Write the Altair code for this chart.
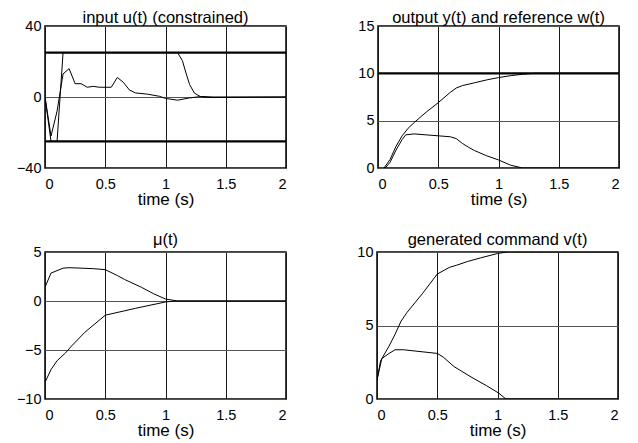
import altair as alt
import pandas as pd

# ---------------- data ----------------
panel_titles = ["input u(t) (constrained)", "output y(t) and reference w(t)",
                "\u03bc(t)", "generated command v(t)"]
x_ticks = [0, 0.5, 1, 1.5, 2]

# Panel 1: input u(t) (constrained)
t_u_a = [0, 0.05, 0.1, 0.15, 0.2, 0.25, 0.3, 0.35, 0.4, 0.45, 0.55, 0.6, 0.65, 0.7, 0.75,
         0.85, 0.95, 1.0, 1.1, 1.2, 1.3, 1.4, 2.0]
u_a = [0, -22, -8, 13, 16, 7.5, 7.5, 5.5, 6, 5.5, 5.5, 11, 8.3, 4, 2.3,
       1.6, 0.4, -0.8, -1.8, -0.5, 0.3, 0, 0]
t_u_b = [0, 0.05, 0.1, 0.15, 1.1, 1.14, 1.17, 1.2, 1.24, 1.29, 1.35, 2.0]
u_b = [0, -25, -25, 25, 25, 20.5, 13.5, 7, 2.2, 0.2, -0.3, 0]
u_limits = [25, -25]
u_ticks = [-40, -20, 0, 20, 40]

# Panel 2: output y(t) and reference w(t)
t_y_a = [0.05, 0.1, 0.15, 0.2, 0.25, 0.3, 0.4, 0.5, 0.6, 0.65, 0.7, 0.8, 0.9, 1.0, 1.1, 1.2, 1.3, 2.0]
y_a = [0, 0.9, 2.3, 3.4, 4.2, 4.8, 5.9, 6.9, 8.0, 8.45, 8.7, 9.0, 9.3, 9.55, 9.75, 9.9, 10, 10]
t_y_b = [0.06, 0.1, 0.15, 0.2, 0.23, 0.3, 0.4, 0.5, 0.6, 0.65, 0.7, 0.75, 0.8, 0.9, 1.0, 1.1, 1.2, 2.0]
y_b = [0, 0.6, 1.9, 3.0, 3.5, 3.6, 3.5, 3.4, 3.3, 3.1, 2.6, 2.2, 1.85, 1.3, 0.85, 0.3, 0, 0]
w_ref = [10]
y_ticks = [0, 5, 10, 15]

# Panel 3: mu(t)
t_mu_a = [0, 0.05, 0.1, 0.15, 0.2, 0.3, 0.4, 0.5, 0.6, 0.66, 0.8, 0.9, 1.0, 1.1, 2.0]
mu_a = [1.4, 2.85, 3.1, 3.35, 3.4, 3.35, 3.3, 3.2, 2.6, 2.2, 1.4, 0.75, 0.2, 0, 0]
t_mu_b = [0, 0.05, 0.1, 0.17, 0.22, 0.33, 0.5, 0.75, 1.0, 1.08, 2.0]
mu_b = [-8.3, -7.0, -6.1, -5.3, -4.6, -3.2, -1.45, -0.75, -0.1, 0, 0]
mu_ticks = [-10, -5, 0, 5]

# Panel 4: generated command v(t)
t_v_a = [0, 0.03, 0.1, 0.15, 0.2, 0.25, 0.38, 0.5, 0.6, 0.66, 0.75, 0.86, 1.0, 1.08, 2.0]
v_a = [1.3, 2.6, 3.6, 4.4, 5.3, 5.9, 7.2, 8.5, 8.95, 9.1, 9.35, 9.6, 9.9, 10, 10]
t_v_b = [0, 0.04, 0.1, 0.15, 0.22, 0.5, 0.55, 0.64, 0.78, 0.91, 1.01, 1.07, 2.0]
v_b = [1.3, 2.75, 3.1, 3.35, 3.35, 3.1, 2.85, 2.2, 1.5, 0.9, 0.4, 0, 0]
v_ticks = [0, 5, 10]

FONT = "Liberation Sans"
PANEL_W = 241
TITLE_SIZE = 16.5


def series_frame(*pairs):
    frames = []
    for i, (ts, vs) in enumerate(pairs):
        frames.append(pd.DataFrame({"t": ts, "v": vs, "s": f"s{i}"}))
    return pd.concat(frames, ignore_index=True)


def panel(df, title, ydomain, yticks, h, title_dy, rules=None):
    x = alt.X("t:Q", scale=alt.Scale(domain=[0, 2], nice=False),
              axis=alt.Axis(values=x_ticks, format="~r", title="time (s)"))
    y = alt.Y("v:Q", scale=alt.Scale(domain=ydomain, nice=False),
              axis=alt.Axis(values=yticks, format="~r", title=None))
    layers = []
    if rules is not None:
        layers.append(alt.Chart(pd.DataFrame({"v": rules})).mark_rule(
            color="black", strokeWidth=2.2).encode(y=alt.Y("v:Q")))
    layers.append(alt.Chart(df).mark_line(color="black", strokeWidth=1, clip=True).encode(
        x=x, y=y, detail="s:N"))
    layers.append(alt.Chart(pd.DataFrame({"label": [title]})).mark_text(
        font=FONT, fontSize=TITLE_SIZE, color="black", align="center", baseline="alphabetic"
    ).encode(text="label:N", x=alt.value(PANEL_W / 2), y=alt.value(title_dy)))
    return alt.layer(*layers).properties(width=PANEL_W, height=h)


p1 = panel(series_frame((t_u_a, u_a), (t_u_b, u_b)), panel_titles[0],
           [-40, 40], u_ticks, 142, -3.5, rules=u_limits)
p2 = panel(series_frame((t_y_a, y_a), (t_y_b, y_b)), panel_titles[1],
           [0, 15], y_ticks, 142, -3.5, rules=w_ref)
p3 = panel(series_frame((t_mu_a, mu_a), (t_mu_b, mu_b)), panel_titles[2],
           [-10, 5], mu_ticks, 147, -7)
p4 = panel(series_frame((t_v_a, v_a), (t_v_b, v_b)), panel_titles[3],
           [0, 10], v_ticks, 147, -7)

top = alt.hconcat(p1, p2, spacing=69)
bottom = alt.hconcat(p3, p4, spacing=69)
chart = alt.vconcat(top, bottom, spacing=22).properties(
    padding={"left": 7, "top": 0, "right": 0, "bottom": 0}
).configure_view(
    stroke="black", strokeWidth=1.5
).configure_axis(
    grid=True, gridWidth=1, gridOpacity=1,
    domain=False, ticks=False,
    labelFont=FONT, labelFontSize=14.5, labelColor="black",
    titleFont=FONT, titleFontSize=17, titleFontWeight="normal", titleColor="black",
).configure_axisX(
    labelPadding=9, titlePadding=1, gridColor="#1a1a1a"
).configure_axisY(
    labelPadding=4, gridColor="#555555"
)

chart.save("out.html", embed_options={"renderer": "svg", "actions": False})
